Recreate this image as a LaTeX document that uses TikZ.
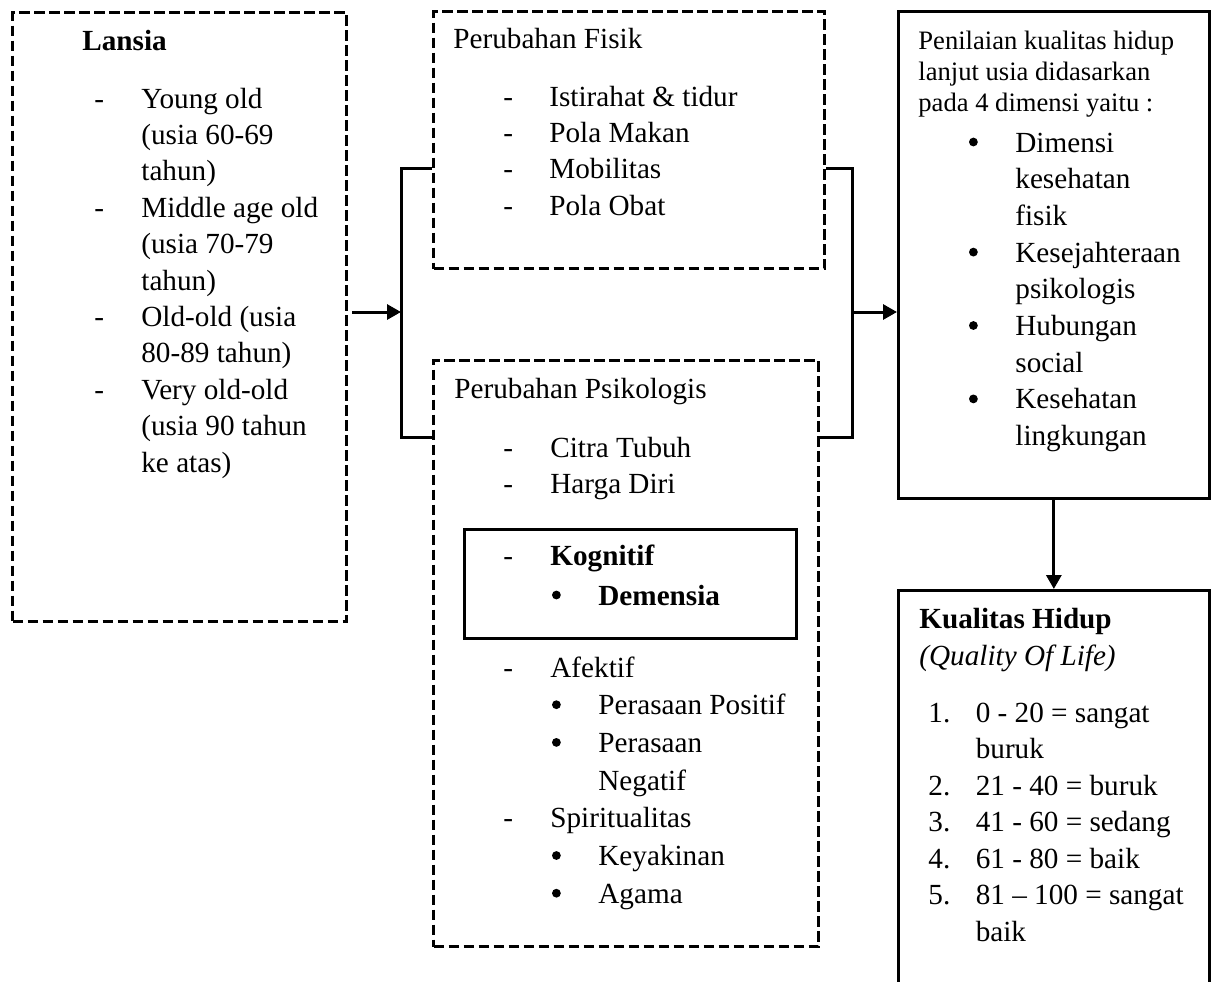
\documentclass[tikz,border=0pt]{standalone}
\usepackage{fontspec}
\setmainfont{Liberation Serif}
\usepackage{array}
\usepackage{tikz}
\usetikzlibrary{positioning,calc,arrows.meta}

\newcommand{\mainsize}{\fontsize{14.6pt}{18.2pt}\selectfont}
\newcommand{\smallsize}{\fontsize{13.3pt}{15.6pt}\selectfont}
\newcommand{\bul}{\hspace*{0.8pt}\tikz[baseline=-5pt]\fill (0pt,0pt) circle (2.2pt);}

\begin{document}
\begin{tikzpicture}[
  x=0.5pt, y=-0.5pt,
  dbox/.style={draw, line width=1.6pt, dash pattern=on 5.2pt off 2.3pt, anchor=north west, inner sep=0pt},
  sbox/.style={draw, line width=1.6pt, anchor=north west, inner sep=0pt},
  txt/.style={anchor=base west, inner sep=0pt, font=\mainsize},
  link/.style={line width=1.5pt},
  arrow/.style={-{Triangle[length=7pt,width=7.5pt]}, line width=1.5pt}
]
\useasboundingbox (0,0) rectangle (1211,981);
\clip (0,0) rectangle (1211,981);

% Lansia
\node[dbox, minimum width=167pt, minimum height=304.5pt] (lansia) at (11,11) {};
\node[txt, font=\mainsize\bfseries] (lansiattl) at ($(lansia.north west)+(71,39)$) {Lansia};
\node[txt] (lansialist) at ($(lansia.north west)+(83,97)$) {\begin{tabular}[t]{@{}p{23.5pt}@{}l@{}}
- & Young old\\
  & (usia 60-69\\
  & tahun)\\
- & Middle age old\\
  & (usia 70-79\\
  & tahun)\\
- & Old-old (usia\\
  & 80-89 tahun)\\
- & Very old-old\\
  & (usia 90 tahun\\
  & ke atas)
\end{tabular}};

% Perubahan fisik
\node[dbox, minimum width=195.5pt, minimum height=128.5pt] (fisik) at (432,10) {};
\node[txt] (fisikttl) at ($(fisik.north west)+(21,38)$) {Perubahan Fisik};
\node[txt] (fisiklist) at ($(fisik.north west)+(71,96)$) {\begin{tabular}[t]{@{}p{23pt}@{}l@{}}
- & Istirahat \& tidur\\
- & Pola Makan\\
- & Mobilitas\\
- & Pola Obat
\end{tabular}};

% Perubahan psikologis
\node[dbox, minimum width=192.5pt, minimum height=293pt] (psiko) at (432,359) {};
\node[txt] (psikottl) at ($(psiko.north west)+(22,39)$) {Perubahan Psikologis};
\node[txt] (psikolist) at ($(psiko.north west)+(71,98)$) {\begin{tabular}[t]{@{}p{23.5pt}@{}l@{}}
- & Citra Tubuh\\
- & Harga Diri
\end{tabular}};
\node[sbox, minimum width=166pt, minimum height=54.5pt] (kognitif) at (463,528) {};
\node[txt, font={\fontsize{14.6pt}{20pt}\selectfont}] (kognitiflist) at ($(kognitif.north west)+(40,37)$) {\begin{tabular}[t]{@{}p{23.5pt}@{}p{24pt}@{}l@{}}
- & \multicolumn{2}{@{}l@{}}{\textbf{Kognitif}}\\
  & \bul & \textbf{Demensia}
\end{tabular}};
\node[txt, font={\fontsize{14.6pt}{18.85pt}\selectfont}] (psikolist2) at ($(psiko.north west)+(71,318)$) {\begin{tabular}[t]{@{}p{23.5pt}@{}p{24pt}@{}l@{}}
- & \multicolumn{2}{@{}l@{}}{Afektif}\\
  & \bul & Perasaan Positif\\
  & \bul & Perasaan\\
  & & Negatif\\
- & \multicolumn{2}{@{}l@{}}{Spiritualitas}\\
  & \bul & Keyakinan\\
  & \bul & Agama
\end{tabular}};

% Penilaian kualitas hidup
\node[sbox, minimum width=155.25pt, minimum height=243.5pt] (nilai) at (897,10) {};
\node[txt, font=\smallsize] (nilaitxt) at ($(nilai.north west)+(21,39)$) {\begin{tabular}[t]{@{}l@{}}
Penilaian kualitas hidup\\
lanjut usia didasarkan\\
pada 4 dimensi yaitu :
\end{tabular}};
\node[txt, font={\fontsize{14.6pt}{18.35pt}\selectfont}] (nilailist) at ($(nilai.north west)+(70,142)$) {\begin{tabular}[t]{@{}p{24pt}@{}l@{}}
\bul & Dimensi\\
 & kesehatan\\
 & fisik\\
\bul & Kesejahteraan\\
 & psikologis\\
\bul & Hubungan\\
 & social\\
\bul & Kesehatan\\
 & lingkungan
\end{tabular}};

% Kualitas hidup
\node[sbox, minimum width=155.25pt, minimum height=215pt] (kualitas) at (897,589) {};
\node[txt, font=\mainsize\bfseries] (kualitasttl) at ($(kualitas.north west)+(22,39)$) {Kualitas Hidup};
\node[txt, font=\mainsize\itshape] (kualitassub) at ($(kualitas.north west)+(22,76)$) {(Quality Of Life)};
\node[txt, font={\fontsize{14.6pt}{18.25pt}\selectfont}] (kualitaslist) at ($(kualitas.north west)+(31,133)$) {\begin{tabular}[t]{@{}p{23.7pt}@{}l@{}}
1. & 0 - 20 = sangat\\
   & buruk\\
2. & 21 - 40 = buruk\\
3. & 41 - 60 = sedang\\
4. & 61 - 80 = baik\\
5. & 81 -- 100 = sangat\\
   & baik
\end{tabular}};

% Connectors
\coordinate (lfork) at (401,312);
\coordinate (rfork) at (852,312);
\draw[link] ($(fisik.north west)!0.61!(fisik.south west)$) -| (lfork) |- ($(psiko.north west)!0.133!(psiko.south west)$);
\draw[link] ($(fisik.north east)!0.61!(fisik.south east)$) -| (rfork) |- ($(psiko.north east)!0.133!(psiko.south east)$);
\draw[arrow, shorten <=2pt] (lansia.east |- lfork) -- (lfork);
\draw[arrow] (rfork) -- (nilai.west |- rfork);
\draw[arrow] (nilai.south) -- (kualitas.north);

\end{tikzpicture}
\end{document}
